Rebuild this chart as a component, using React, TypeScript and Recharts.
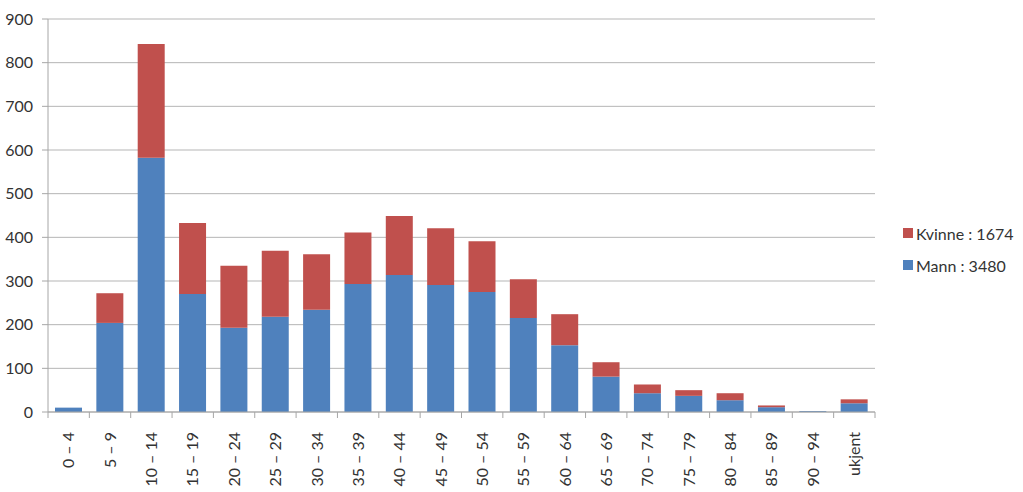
import React from 'react';
import { BarChart, Bar, XAxis, YAxis, CartesianGrid, Legend } from 'recharts';

const categories = ['0 – 4', '5 – 9', '10 – 14', '15 – 19', '20 – 24', '25 – 29', '30 – 34', '35 – 39', '40 – 44', '45 – 49', '50 – 54', '55 – 59', '60 – 64', '65 – 69', '70 – 74', '75 – 79', '80 – 84', '85 – 89', '90 – 94', 'ukjent'];
const mann = [10, 204, 582, 270, 193, 218, 234, 293, 314, 291, 275, 215, 153, 81, 43, 37, 27, 11, 2, 20];
const kvinne = [0, 68, 261, 163, 142, 151, 127, 118, 135, 130, 116, 89, 71, 33, 20, 13, 16, 4, 0, 9];
const yTicks = [0, 100, 200, 300, 400, 500, 600, 700, 800, 900];
const legendItems = [
  { key: 'kvinne', label: 'Kvinne : 1674', color: '#c0504d' },
  { key: 'mann', label: 'Mann : 3480', color: '#4f81bd' },
];

const data = categories.map((name, i) => ({ name, mann: mann[i], kvinne: kvinne[i] }));

const W = 1023;
const H = 492;
const PLOT_RIGHT_GAP = 148;
const LEGEND_W = 120;
const MARGIN = { top: 19, right: PLOT_RIGHT_GAP - LEGEND_W, left: 8, bottom: 10 };
const Y_AXIS_W = 40;
const PLOT_W = W - MARGIN.left - PLOT_RIGHT_GAP - Y_AXIS_W;
const STEP = PLOT_W / categories.length;
const FONT = 'Lato, "Open Sans", sans-serif';
const TEXT = '#333333';
const AXIS = '#a6a6a6';

const XTick = (props: any) => {
  const { x, y, payload, index } = props;
  return (
    <g transform={`translate(${x},${y})`}>
      {index === 0 && <line x1={-STEP / 2} x2={-STEP / 2} y1={0} y2={6} stroke={AXIS} />}
      <line x1={STEP / 2} x2={STEP / 2} y1={0} y2={6} stroke={AXIS} />
      <text
        transform="rotate(-90)"
        x={-20}
        y={0}
        dy="0.36em"
        textAnchor="end"
        fill={TEXT}
        fontSize={16}
        fontFamily={FONT}
      >
        {payload.value}
      </text>
    </g>
  );
};

const LegendContent = () => (
  <div style={{ fontFamily: FONT, fontSize: 16, color: TEXT }}>
    {legendItems.map((it) => (
      <div key={it.key} style={{ display: 'flex', alignItems: 'center', height: 32 }}>
        <span style={{ display: 'inline-block', width: 10, height: 10, background: it.color, marginRight: 3 }} />
        <span>{it.label}</span>
      </div>
    ))}
  </div>
);

export default function App() {
  return (
    <div style={{ position: 'fixed', left: 0, top: 0, width: W, height: H, background: '#fff' }}>
      <BarChart width={W} height={H} data={data} margin={MARGIN} barSize={27}>
        <CartesianGrid vertical={false} stroke="#b5b5b5" />
        <XAxis
          dataKey="name"
          interval={0}
          tickLine={false}
          tickSize={0}
          tickMargin={0}
          height={70}
          axisLine={{ stroke: AXIS }}
          tick={<XTick />}
        />
        <YAxis
          width={Y_AXIS_W}
          domain={[0, 900]}
          ticks={yTicks}
          interval={0}
          tickSize={6}
          tickMargin={9}
          axisLine={{ stroke: AXIS }}
          tickLine={{ stroke: AXIS }}
          tick={{ fill: TEXT, fontSize: 16, fontFamily: FONT }}
        />
        <Legend
          layout="horizontal"
          verticalAlign="middle"
          align="right"
          width={LEGEND_W}
          wrapperStyle={{ left: 903, top: 217, right: 'auto', width: LEGEND_W }}
          content={<LegendContent />}
        />
        <Bar dataKey="mann" stackId="a" fill="#4f81bd" isAnimationActive={false} />
        <Bar dataKey="kvinne" stackId="a" fill="#c0504d" isAnimationActive={false} />
      </BarChart>
    </div>
  );
}
